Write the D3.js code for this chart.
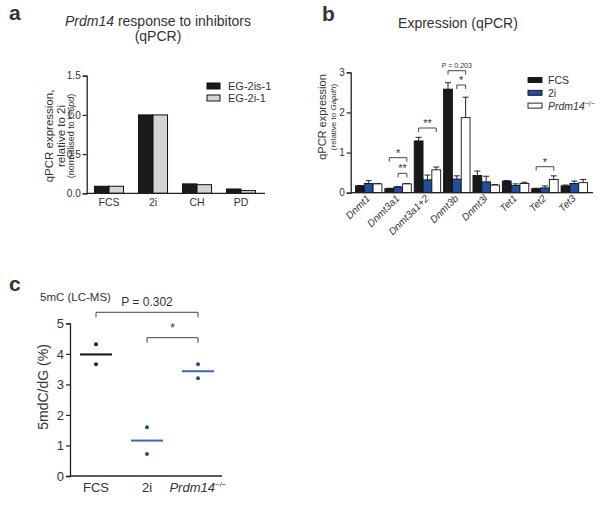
<!DOCTYPE html>
<html><head><meta charset="utf-8">
<script src="https://cdn.jsdelivr.net/npm/d3@7"></script>
<style>body{margin:0;background:#fff}svg{display:block}text{font-family:"Liberation Sans",Arial,sans-serif;fill:#333}</style>
</head><body><svg id="c" width="600" height="507"></svg>
<script>
// Panel a data
const aCats = ["FCS","2i","CH","PD"];
const aSeries = ["EG-2is-1","EG-2i-1"];
const aVals = [[0.09,0.09],[1.0,1.0],[0.12,0.11],[0.055,0.035]];
const aTicks = [0,0.5,1.0,1.5];
// Panel b data
const bCats = ["Dnmt1","Dnmt3a1","Dnmt3a1+2","Dnmt3b","Dnmt3l","Tet1","Tet2","Tet3"];
const bSeries = ["FCS","2i","Prdm14"];
const bFCS = [0.17,0.10,1.29,2.58,0.43,0.29,0.10,0.17];
const bFCSerr = [0.01,0.01,0.09,0.16,0.11,0.01,0.01,0.02];
const b2i = [0.23,0.14,0.32,0.34,0.27,0.18,0.12,0.23];
const b2ierr = [0.07,0.01,0.12,0.08,0.14,0.04,0.05,0.06];
const bKO = [0.22,0.22,0.57,1.87,0.19,0.23,0.33,0.25];
const bKOerr = [0.01,0.01,0.07,0.51,0.01,0.03,0.09,0.08];
const bTicks = [0,1,2,3];
// Panel c data
const cCats = ["FCS","2i","Prdm14"];
const cPoints = [[4.31,3.66],[1.60,0.72],[3.66,3.20]];
const cMeans = [3.98,1.16,3.43];
const cTicks = [0,1,2,3,4,5];

const svg = d3.select("#c");
const F = '"Liberation Sans",Arial,sans-serif';
const dark = "#222", blue = "#1f4f9e";

function yAxis(g, y, ticks, fmt, fs){
  const ax = g.call(d3.axisLeft(y).tickValues(ticks).tickFormat(fmt).tickSizeOuter(0).tickSize(4));
  ax.select(".domain").attr("stroke","#222").attr("stroke-width",1.3);
  ax.selectAll(".tick line").attr("stroke","#222").attr("stroke-width",1.2);
  ax.selectAll(".tick text").attr("font-size",fs).attr("font-family",F).attr("fill","#555").attr("x",-6);
}

// ---------- Panel a ----------
svg.append("text").attr("x",9).attr("y",20).attr("font-size",21).attr("font-weight","bold").attr("fill","#111").text("a");
const ta = svg.append("text").attr("x",158).attr("y",26).attr("text-anchor","middle").attr("font-size",14);
ta.append("tspan").attr("font-style","italic").text("Prdm14");
ta.append("tspan").text(" response to inhibitors");
svg.append("text").attr("x",158).attr("y",41).attr("text-anchor","middle").attr("font-size",14).text("(qPCR)");

const ay = d3.scaleLinear().domain([0,1.5]).range([193.3,75.7]);
const ax = d3.scaleBand().domain(aCats).range([87,263]).paddingInner(0.34).paddingOuter(0.17);
const axs = d3.scaleBand().domain(aSeries).range([0,ax.bandwidth()]);
const aColors = ["#1a1a1a","#d4d4d4"];
const ga = svg.append("g");
aCats.forEach((c,i)=>{
  aSeries.forEach((s,j)=>{
    ga.append("rect").attr("x",ax(c)+axs(s)).attr("y",ay(aVals[i][j])).attr("width",axs.bandwidth())
      .attr("height",ay(0)-ay(aVals[i][j])).attr("fill",aColors[j]).attr("stroke","#111").attr("stroke-width",1);
  });
});
yAxis(svg.append("g").attr("transform","translate(86.7,0)"), ay, aTicks, d3.format(".1f"), 10);
svg.append("line").attr("x1",86.7).attr("x2",265).attr("y1",193.3).attr("y2",193.3).attr("stroke","#222").attr("stroke-width",1.3);
aCats.forEach(c=>svg.append("text").attr("x",ax(c)+ax.bandwidth()/2).attr("y",206).attr("text-anchor","middle").attr("font-size",10.5).attr("fill","#444").text(c));
// y label a
const ayl = svg.append("g").attr("transform","translate(0,136) rotate(-90)");
ayl.append("text").attr("x",0).attr("y",53).attr("text-anchor","middle").attr("font-size",11.5).text("qPCR expression,");
ayl.append("text").attr("x",0).attr("y",64.5).attr("text-anchor","middle").attr("font-size",11.5).text("relative to 2i");
const ayl3 = ayl.append("text").attr("x",0).attr("y",73.5).attr("text-anchor","middle").attr("font-size",9);
ayl3.append("tspan").text("(normalised to ");
ayl3.append("tspan").attr("font-style","italic").text("G6pd");
ayl3.append("tspan").text(")");
// legend a
aSeries.forEach((s,j)=>{
  svg.append("rect").attr("x",207).attr("y",83+j*12).attr("width",13).attr("height",6).attr("fill",aColors[j]).attr("stroke","#111").attr("stroke-width",1);
  svg.append("text").attr("x",228).attr("y",90+j*12).attr("font-size",11).attr("fill","#444").text(s);
});

// ---------- Panel b ----------
svg.append("text").attr("x",322).attr("y",21).attr("font-size",21).attr("font-weight","bold").attr("fill","#111").text("b");
svg.append("text").attr("x",458).attr("y",28).attr("text-anchor","middle").attr("font-size",14).text("Expression (qPCR)");
const by = d3.scaleLinear().domain([0,3]).range([192.7,72.3]);
const bx = d3.scaleBand().domain(bCats).range([354,589]).paddingInner(0.1).paddingOuter(0.05);
const bxs = d3.scaleBand().domain(bSeries).range([0,bx.bandwidth()]);
const bData = [[bFCS,bFCSerr],[b2i,b2ierr],[bKO,bKOerr]];
const bColors = ["#1a1a1a",blue,"#ffffff"];
const gb = svg.append("g");
bCats.forEach((c,i)=>{
  bSeries.forEach((s,j)=>{
    const v = bData[j][0][i], e = bData[j][1][i];
    const x0 = bx(c)+bxs(s), w = bxs.bandwidth();
    const cx = x0+w/2;
    gb.append("line").attr("x1",cx).attr("x2",cx).attr("y1",by(v)).attr("y2",by(v+e)).attr("stroke","#222").attr("stroke-width",1);
    gb.append("line").attr("x1",cx-3).attr("x2",cx+3).attr("y1",by(v+e)).attr("y2",by(v+e)).attr("stroke","#222").attr("stroke-width",1);
    gb.append("rect").attr("x",x0).attr("y",by(v)).attr("width",w).attr("height",by(0)-by(v))
      .attr("fill",bColors[j]).attr("stroke","#111").attr("stroke-width",0.9);
  });
});
yAxis(svg.append("g").attr("transform","translate(350.7,0)"), by, bTicks, d3.format("d"), 10);
svg.append("line").attr("x1",350.7).attr("x2",593).attr("y1",192.7).attr("y2",192.7).attr("stroke","#222").attr("stroke-width",1.3);
bCats.forEach(c=>{
  svg.append("text").attr("transform",`translate(${bx(c)+bx.bandwidth()/2+2},${199}) rotate(-45)`)
    .attr("text-anchor","end").attr("font-size",10).attr("font-style","italic").attr("fill","#444").text(c);
});
const byl = svg.append("g").attr("transform","translate(0,117) rotate(-90)");
byl.append("text").attr("x",0).attr("y",326).attr("text-anchor","middle").attr("font-size",11).text("qPCR expression");
const byl2 = byl.append("text").attr("x",0).attr("y",336).attr("text-anchor","middle").attr("font-size",8);
byl2.append("tspan").text("(relative to ");
byl2.append("tspan").attr("font-style","italic").text("Gapdh");
byl2.append("tspan").text(")");
// brackets b
function bxc(c,s){return bx(c)+bxs(s)+bxs.bandwidth()/2;}
function bracket(x1,x2,yv,label,fs,dy){
  svg.append("path").attr("d",`M${x1},${yv+4}V${yv}H${x2}V${yv+4}`).attr("fill","none").attr("stroke","#333").attr("stroke-width",0.9);
  svg.append("text").attr("x",(x1+x2)/2).attr("y",yv-dy).attr("text-anchor","middle").attr("font-size",fs).attr("fill","#333").text(label);
}
bracket(bxc("Dnmt3a1","FCS"),bxc("Dnmt3a1","Prdm14"),157.7,"*",11,1);
bracket(bxc("Dnmt3a1","2i"),bxc("Dnmt3a1","Prdm14"),173.3,"**",11,1);
bracket(bxc("Dnmt3a1+2","FCS"),bxc("Dnmt3a1+2","Prdm14"),128,"**",11,1);
bracket(bxc("Dnmt3b","2i"),bxc("Dnmt3b","Prdm14"),85,"*",11,1);
bracket(bxc("Dnmt3b","FCS"),bxc("Dnmt3b","Prdm14"),70.7,"P = 0.203",7,3);
bracket(bxc("Tet2","FCS"),bxc("Tet2","Prdm14"),166.7,"*",11,1);
// legend b
bSeries.forEach((s,j)=>{
  svg.append("rect").attr("x",528).attr("y",77.5+j*12.8).attr("width",14).attr("height",5).attr("fill",bColors[j]).attr("stroke","#111").attr("stroke-width",0.9);
  const t = svg.append("text").attr("x",548).attr("y",84+j*12.8).attr("font-size",10.5).attr("fill","#444");
  if(j<2) t.text(s); else {
    t.append("tspan").attr("font-style","italic").text("Prdm14");
    t.append("tspan").attr("font-size",7).attr("dy",-4).text("−/−");
  }
});

// ---------- Panel c ----------
svg.append("text").attr("x",9).attr("y",291).attr("font-size",21).attr("font-weight","bold").attr("fill","#111").text("c");
svg.append("text").attr("x",40).attr("y",301).attr("font-size",11.5).text("5mC (LC-MS)");
const cy = d3.scaleLinear().domain([0,5]).range([476,323.3]);
const cx = d3.scalePoint().domain(cCats).range([96,198]);
const cCol = [dark,blue,blue];
const cLine = ["#111","#3a66b8","#3a66b8"];
cCats.forEach((c,i)=>{
  svg.append("line").attr("x1",cx(c)-16).attr("x2",cx(c)+16).attr("y1",cy(cMeans[i])).attr("y2",cy(cMeans[i])).attr("stroke",cLine[i]).attr("stroke-width",2);
  cPoints[i].forEach(v=>svg.append("circle").attr("cx",cx(c)).attr("cy",cy(v)).attr("r",2).attr("fill",cCol[i]));
});
yAxis(svg.append("g").attr("transform","translate(70,0)"), cy, cTicks, d3.format("d"), 13);
svg.append("line").attr("x1",70).attr("x2",222).attr("y1",476).attr("y2",476).attr("stroke","#222").attr("stroke-width",1.3);
cCats.forEach((c,i)=>{
  const t = svg.append("text").attr("x",cx(c)).attr("y",492).attr("text-anchor","middle").attr("font-size",13).attr("fill","#333");
  if(i<2) t.text(c); else {
    t.append("tspan").attr("font-style","italic").text("Prdm14");
    t.append("tspan").attr("font-size",8).attr("dy",-5).text("−/−");
  }
});
svg.append("text").attr("transform","translate(48,387) rotate(-90)").attr("text-anchor","middle").attr("font-size",14).text("5mdC/dG (%)");
function cbr(x1,x2,yv,label,fs){
  svg.append("path").attr("d",`M${x1},${yv+5}V${yv}H${x2}V${yv+5}`).attr("fill","none").attr("stroke","#444").attr("stroke-width",1);
  svg.append("text").attr("x",(x1+x2)/2).attr("y",yv-6).attr("text-anchor","middle").attr("font-size",fs).attr("fill","#333").text(label);
}
cbr(cx("FCS"),cx("Prdm14"),312.3,"P = 0.302",12);
cbr(cx("2i"),cx("Prdm14"),337.7,"*",12);
</script></body></html>
